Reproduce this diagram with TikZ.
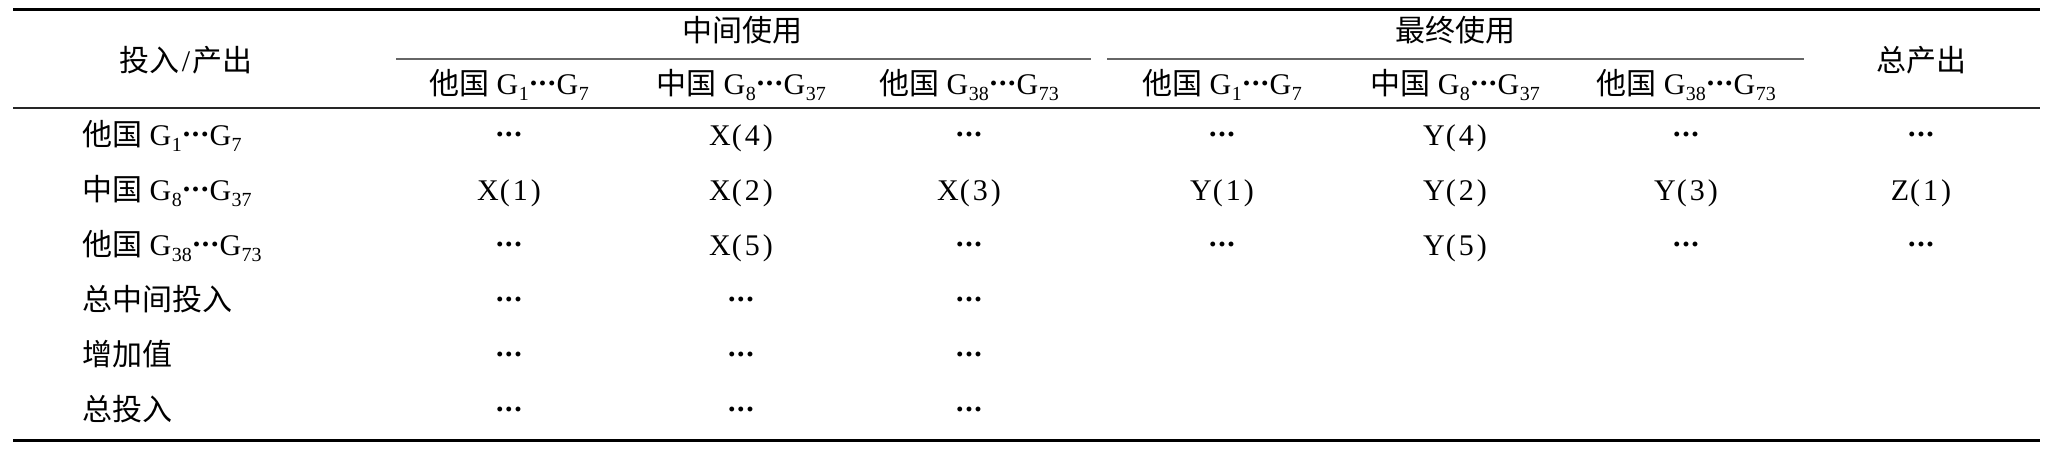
\documentclass[tikz,border=0pt]{standalone}
\usepackage{fontspec}
\setmainfont{Liberation Serif}
\newfontfamily\cjk{Noto Sans CJK SC}
\newcommand\dd{\kern1pt\raisebox{0.27em}{\textbf{.}\kern1.6pt\textbf{.}\kern1.6pt\textbf{.}}\kern1pt}
\newcommand\Gs[1]{G\kern0.5pt\raisebox{-0.45ex}{\fontsize{20}{20}\selectfont #1}}
\newcommand\pp[2]{#1\kern1pt(\kern3pt#2\kern3pt)}
\begin{document}
\begin{tikzpicture}[x=1pt,y=-1pt,
  txt/.style={inner sep=0pt, anchor=base, font=\fontsize{30}{32}\selectfont, text=black},
  lbl/.style={txt, anchor=base west},
  toprule/.style={line width=3pt, black},
  midrule/.style={line width=1.6pt, black!85},
  cmidrule/.style={line width=2pt, black!60}]
\useasboundingbox (0,0) rectangle (2048,448);
% rule anchors
\coordinate (tl) at (13,9);   \coordinate (tr) at (2040,9);
\coordinate (ml) at (13,108); \coordinate (mr) at (2040,108);
\coordinate (bl) at (13,440); \coordinate (br) at (2040,440);
\coordinate (s1l) at (396,59); \coordinate (s1r) at (1091,59);
\coordinate (s2l) at (1107,59); \coordinate (s2r) at (1804,59);
\draw[toprule] (tl) -- (tr);
\draw[midrule] (ml) -- (mr);
\draw[toprule] (bl) -- (br);
\draw[cmidrule] (s1l) -- (s1r);
\draw[cmidrule] (s2l) -- (s2r);
% header
\node[txt] (hio) at (186,71) {{\cjk 投入}\kern2pt/\kern2pt{\cjk 产出}};
\node[txt] (hmid) at (742,41) {\cjk 中间使用};
\node[txt] (hfin) at (1455,41) {\cjk 最终使用};
\node[txt] (htot) at (1921,71) {\cjk 总产出};
\node[txt] (c1) at (509,94) {{\cjk 他国} \Gs{1}\dd\Gs{7}};
\node[txt] (c2) at (741,94) {{\cjk 中国} \Gs{8}\dd\Gs{37}};
\node[txt] (c3) at (969,94) {{\cjk 他国} \Gs{38}\dd\Gs{73}};
\node[txt] (c4) at (1222,94) {{\cjk 他国} \Gs{1}\dd\Gs{7}};
\node[txt] (c5) at (1455,94) {{\cjk 中国} \Gs{8}\dd\Gs{37}};
\node[txt] (c6) at (1686,94) {{\cjk 他国} \Gs{38}\dd\Gs{73}};
% row labels
\node[lbl] (r1) at (82,145) {{\cjk 他国} \Gs{1}\dd\Gs{7}};
\node[lbl] (r2) at (82,200) {{\cjk 中国} \Gs{8}\dd\Gs{37}};
\node[lbl] (r3) at (82,255) {{\cjk 他国} \Gs{38}\dd\Gs{73}};
\node[lbl] (r4) at (82,310) {\cjk 总中间投入};
\node[lbl] (r5) at (82,365) {\cjk 增加值};
\node[lbl] (r6) at (82,420) {\cjk 总投入};
% row 1
\foreach \x/\t [count=\i] in {509/{\dd},741/{\pp{X}{4}},969/{\dd},1222/{\dd},1455/{\pp{Y}{4}},1686/{\dd},1921/{\dd}}
  \node[txt] (a\i) at (\x,145) {\t};
% row 2
\foreach \x/\t [count=\i] in {509/{\pp{X}{1}},741/{\pp{X}{2}},969/{\pp{X}{3}},1222/{\pp{Y}{1}},1455/{\pp{Y}{2}},1686/{\pp{Y}{3}},1921/{\pp{Z}{1}}}
  \node[txt] (b\i) at (\x,200) {\t};
% row 3
\foreach \x/\t [count=\i] in {509/{\dd},741/{\pp{X}{5}},969/{\dd},1222/{\dd},1455/{\pp{Y}{5}},1686/{\dd},1921/{\dd}}
  \node[txt] (d\i) at (\x,255) {\t};
% rows 4-6
\foreach \y/\r in {310/e,365/f,420/g}
  \foreach \x [count=\i] in {509,741,969}
    \node[txt] (\r\i) at (\x,\y) {\dd};
\end{tikzpicture}
\end{document}
